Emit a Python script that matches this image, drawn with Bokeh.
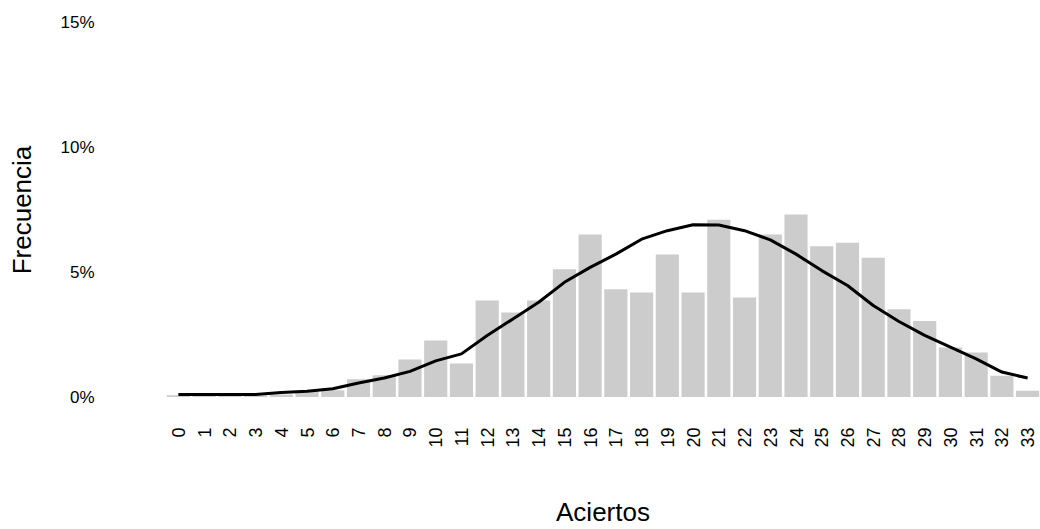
from bokeh.plotting import figure
from bokeh.models import Range1d, FixedTicker, PrintfTickFormatter
from bokeh.embed import file_html
from bokeh.resources import INLINE

categories = list(range(34))
bar_values = [0.07, 0.05, 0.05, 0.05, 0.10, 0.24, 0.27, 0.71, 0.87, 1.50,
              2.27, 1.34, 3.87, 3.39, 3.87, 5.12, 6.52, 4.32, 4.19, 5.72,
              4.19, 7.11, 3.99, 6.52, 7.32, 6.05, 6.19, 5.59, 3.52, 3.05,
              1.99, 1.79, 0.85, 0.25]
line_values = [0.10, 0.10, 0.10, 0.10, 0.18, 0.23, 0.33, 0.56, 0.76, 1.03,
               1.45, 1.73, 2.47, 3.13, 3.80, 4.60, 5.20, 5.73, 6.33, 6.67,
               6.91, 6.90, 6.67, 6.30, 5.73, 5.07, 4.47, 3.67, 3.03, 2.47,
               2.00, 1.53, 1.00, 0.76]
y_ticks = [0, 5, 10, 15]

FONT = "Liberation Sans"

p = figure(width=1040, height=529, output_backend="svg", toolbar_location=None,
           x_range=Range1d(-0.5, 33.5), y_range=Range1d(-0.3, 15.3),
           min_border_left=165, min_border_right=0, min_border_top=15,
           min_border_bottom=10)
p.outline_line_color = None
p.grid.visible = False

p.vbar(x=categories, top=bar_values, bottom=0, width=0.9,
       fill_color="#cccccc", line_color=None)
p.line(x=categories, y=line_values, line_color="black", line_width=3,
       line_join="round")

xa = p.xaxis[0]
xa.ticker = FixedTicker(ticks=categories)
xa.major_label_orientation = 1.5707963
xa.axis_line_color = None
xa.major_tick_line_color = None
xa.minor_tick_line_color = None
xa.major_tick_out = 0
xa.major_tick_in = 0
xa.major_label_standoff = 23
xa.major_label_text_font = FONT
xa.major_label_text_font_size = "18px"
xa.major_label_text_color = "black"
xa.axis_label = "Aciertos"
xa.axis_label_text_font = FONT
xa.axis_label_text_font_size = "26px"
xa.axis_label_text_font_style = "normal"
xa.axis_label_text_color = "black"
xa.axis_label_standoff = 46

ya = p.yaxis[0]
ya.ticker = FixedTicker(ticks=y_ticks)
ya.formatter = PrintfTickFormatter(format="%d%%")
ya.axis_line_color = None
ya.major_tick_line_color = None
ya.minor_tick_line_color = None
ya.major_tick_out = 0
ya.major_tick_in = 0
ya.major_label_standoff = 71
ya.major_label_text_font = FONT
ya.major_label_text_font_size = "17px"
ya.major_label_text_color = "black"
ya.axis_label = "Frecuencia"
ya.axis_label_text_font = FONT
ya.axis_label_text_font_size = "26px"
ya.axis_label_text_font_style = "normal"
ya.axis_label_text_color = "black"
ya.axis_label_standoff = 20

open("out.html", "w").write(file_html(p, INLINE))
